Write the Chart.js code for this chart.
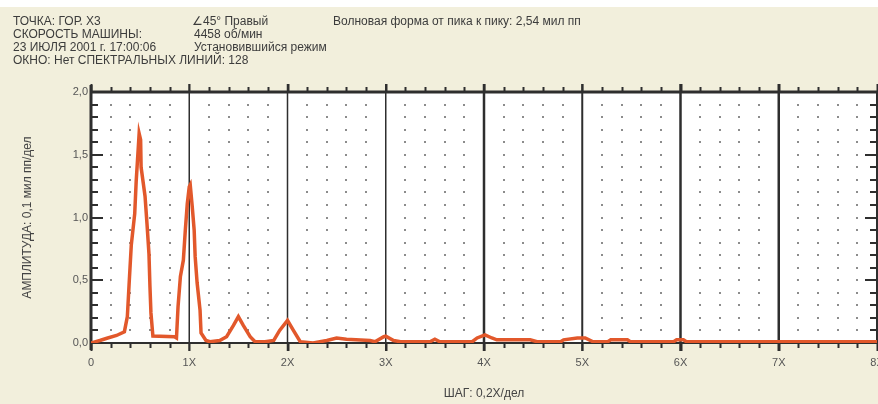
<!DOCTYPE html>
<html>
<head>
<meta charset="utf-8">
<script src="https://cdn.jsdelivr.net/npm/chart.js@4.4.1/dist/chart.umd.min.js"></script>
<style>
  html, body { margin: 0; padding: 0; background: #fff; }
  #wrap { position: relative; width: 878px; height: 404px; overflow: hidden; }
  #c { position: absolute; left: 0; top: 0; }
  .hd { position: absolute; z-index: 2; font: 12px "Liberation Sans", Arial, sans-serif;
        color: #3c3c3c; white-space: nowrap; line-height: 13px; }
</style>
</head>
<body>
<div id="wrap">
  <canvas id="c" width="878" height="404"></canvas>
  <div class="hd" style="left:13px;top:15px">ТОЧКА: ГОР. Х3</div>
  <div class="hd" style="left:13px;top:28px">СКОРОСТЬ МАШИНЫ:</div>
  <div class="hd" style="left:13px;top:41px">23 ИЮЛЯ 2001 г. 17:00:06</div>
  <div class="hd" style="left:13px;top:54px">ОКНО: Нет СПЕКТРАЛЬНЫХ ЛИНИЙ: 128</div>
  <div class="hd" style="left:192px;top:15px">∠45° Правый</div>
  <div class="hd" style="left:194px;top:28px">4458 об/мин</div>
  <div class="hd" style="left:194px;top:41px">Установившийся режим</div>
  <div class="hd" style="left:333px;top:15px">Волновая форма от пика к пику: 2,54 мил пп</div>
</div>
<script>
// Spectrum: frequency in orders of running speed (X) and amplitude (mil pk-pk)
const orders = [
  0, 0.09, 0.17, 0.26, 0.34, 0.37, 0.39, 0.41, 0.445, 0.46, 0.48, 0.49, 0.505, 0.51,
  0.55, 0.57, 0.59, 0.60, 0.61, 0.63, 0.85, 0.87, 0.886, 0.91, 0.94, 0.96, 0.98, 1.00,
  1.01, 1.03, 1.05, 1.06, 1.08, 1.11, 1.12, 1.17, 1.21, 1.31, 1.38, 1.45, 1.50, 1.55,
  1.62, 1.67, 1.77, 1.86, 1.92, 2.00, 2.06, 2.13, 2.26, 2.40, 2.50, 2.60, 2.84, 2.89,
  2.98, 3.00, 3.08, 3.15, 3.45, 3.50, 3.55, 3.88, 3.93, 4.01, 4.08, 4.13, 4.47, 4.54,
  4.78, 4.81, 4.95, 5.03, 5.11, 5.26, 5.29, 5.46, 5.49, 5.93, 5.96, 6.03, 6.06, 8.00
];
const amplitudes = [
  0, 0.02, 0.04, 0.06, 0.09, 0.21, 0.50, 0.78, 1.03, 1.29, 1.54, 1.67, 1.62, 1.40,
  1.17, 0.95, 0.71, 0.45, 0.24, 0.055, 0.05, 0.04, 0.29, 0.53, 0.66, 0.90, 1.11, 1.245,
  1.26, 1.09, 0.90, 0.69, 0.48, 0.26, 0.08, 0.02, 0.01, 0.02, 0.05, 0.14, 0.21, 0.14,
  0.05, 0.01, 0.01, 0.02, 0.10, 0.18, 0.10, 0.01, 0.00, 0.02, 0.04, 0.03, 0.02, 0.01,
  0.05, 0.055, 0.02, 0.01, 0.01, 0.03, 0.01, 0.01, 0.04, 0.065, 0.04, 0.025, 0.025, 0.01,
  0.01, 0.025, 0.04, 0.04, 0.01, 0.01, 0.025, 0.025, 0.01, 0.01, 0.025, 0.025, 0.01, 0.01
];
const xMax = 8, xStep = 0.2;
const yMax = 2, yStep = 0.1;
const xTitle = 'ШАГ: 0,2Х/дел';
const yTitle = 'АМПЛИТУДА: 0,1 мил пп/дел';

const BEIGE = '#f2efdc';
const INK = '#2e2e2e';
const TRACE = '#e2582b';
// line weight of each whole-order divider (index = order)
const dividerWidths = [0, 1.5, 1.5, 1.5, 2.5, 2, 2.5, 2.5, 0];

const near = (v, q) => Math.abs(v / q - Math.round(v / q)) < 1e-6;

const frame = {
  id: 'frame',
  beforeDraw(chart) {
    const { ctx, chartArea: a } = chart;
    ctx.save();
    ctx.fillStyle = BEIGE;
    ctx.fillRect(0, 7, chart.width, chart.height - 7);
    ctx.fillStyle = '#fff';
    ctx.fillRect(a.left, a.top, a.right - a.left, a.bottom - a.top);
    ctx.restore();
  },
  beforeDatasetsDraw(chart) {
    const { ctx, chartArea: a } = chart;
    const xs = chart.scales.x, ys = chart.scales.y;
    ctx.save();
    // dotted grid
    ctx.fillStyle = '#8c8c8c';
    xs.ticks.forEach(t => {
      if (near(t.value, 1)) return;
      const px = Math.round(xs.getPixelForValue(t.value));
      ys.ticks.forEach(u => {
        if (u.value < 0.05 || u.value > yMax - 0.05) return;
        const py = Math.round(ys.getPixelForValue(u.value));
        ctx.fillRect(px - 1, py - 1, 2, 2);
      });
    });
    // whole-order dividers
    ctx.strokeStyle = INK;
    for (let k = 1; k < xMax; k++) {
      const px = xs.getPixelForValue(k);
      ctx.lineWidth = dividerWidths[k];
      ctx.beginPath();
      ctx.moveTo(px, a.top - 8);
      ctx.lineTo(px, a.bottom + 8);
      ctx.stroke();
    }
    // ticks
    ctx.lineWidth = 2;
    ctx.beginPath();
    xs.ticks.forEach(t => {
      const px = Math.round(xs.getPixelForValue(t.value)) + 0.5;
      const whole = near(t.value, 1);
      ctx.moveTo(px, a.top);
      ctx.lineTo(px, a.top - (whole ? 8 : 5));
      ctx.moveTo(px, a.bottom);
      ctx.lineTo(px, a.bottom + (whole ? 8 : 5));
    });
    ys.ticks.forEach(u => {
      const py = Math.round(ys.getPixelForValue(u.value));
      const len = near(u.value, 0.5) ? 12 : 7;
      ctx.moveTo(a.left, py);
      ctx.lineTo(a.left + len, py);
      ctx.moveTo(a.right, py);
      ctx.lineTo(a.right - len, py);
    });
    ctx.stroke();
    // frame
    ctx.lineWidth = 3;
    ctx.beginPath();
    ctx.moveTo(a.left - 1, a.top);
    ctx.lineTo(a.right, a.top);
    ctx.moveTo(a.left, a.top - 7);
    ctx.lineTo(a.left, a.bottom + 7);
    ctx.stroke();
    ctx.lineWidth = 2;
    ctx.beginPath();
    ctx.moveTo(a.left, a.bottom);
    ctx.lineTo(a.right, a.bottom);
    ctx.moveTo(a.right, a.top);
    ctx.lineTo(a.right, a.bottom);
    ctx.stroke();
    ctx.restore();
  }
};

const tickFont = { family: '"Liberation Sans", Arial, sans-serif', size: 11 };
const titleFont = { family: '"Liberation Sans", Arial, sans-serif', size: 12 };

new Chart(document.getElementById('c'), {
  type: 'line',
  data: {
    datasets: [{
      data: orders.map((v, i) => ({ x: v, y: amplitudes[i] })),
      borderColor: TRACE,
      borderWidth: 3.5,
      pointRadius: 0,
      tension: 0,
      fill: false
    }]
  },
  options: {
    responsive: false,
    animation: false,
    devicePixelRatio: 1,
    layout: { padding: { top: 92, right: 1, left: 0, bottom: 0 } },
    plugins: { legend: { display: false }, tooltip: { enabled: false } },
    scales: {
      x: {
        type: 'linear', min: 0, max: xMax,
        grid: { display: false, drawTicks: false, tickLength: 0 }, border: { display: false },
        ticks: {
          stepSize: xStep, autoSkip: false, maxRotation: 0, padding: 13,
          color: '#555', font: tickFont,
          callback: v => near(v, 1) ? (Math.round(v) === 0 ? '0' : Math.round(v) + 'X') : ''
        },
        title: { display: true, text: xTitle, color: '#444', font: titleFont, padding: { top: 0, bottom: 3 } },
        afterFit(s) { s.height = 61; s.paddingLeft = 0; s.paddingRight = 0; }
      },
      y: {
        min: 0, max: yMax,
        grid: { display: false, drawTicks: false, tickLength: 0 }, border: { display: false },
        ticks: {
          stepSize: yStep, autoSkip: false, padding: 3,
          color: '#555', font: tickFont,
          callback: v => near(v, 0.5) ? v.toFixed(1).replace('.', ',') : ''
        },
        title: { display: true, text: yTitle, color: '#444', font: titleFont, padding: { top: 20, bottom: 0 } },
        afterFit(s) { s.width = 91; }
      }
    }
  },
  plugins: [frame]
});
</script>
</body>
</html>
